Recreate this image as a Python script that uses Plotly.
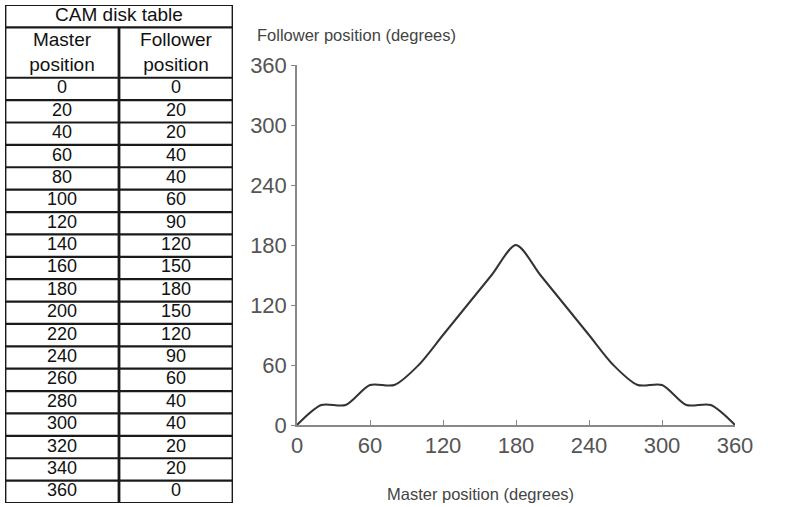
import plotly.graph_objects as go

master = [0, 20, 40, 60, 80, 100, 120, 140, 160, 180, 200, 220, 240, 260, 280, 300, 320, 340, 360]
follower = [0, 20, 20, 40, 40, 60, 90, 120, 150, 180, 150, 120, 90, 60, 40, 40, 20, 20, 0]
x_ticks = [0, 60, 120, 180, 240, 300, 360]
y_ticks = [0, 60, 120, 180, 240, 300, 360]
table_title = "CAM disk table"
col_header_top = ["Master", "Follower"]
col_header_bottom = ["position", "position"]

W, H = 792, 507
FONT = "Liberation Sans, Arial, Helvetica, sans-serif"
LINE = "#1a1a1a"

def px_x(s):
    return s / W

def px_y(s):
    return 1 - s / H

# table layout in row units (top = 0)
TITLE_H = 1.0
HEAD_H = 2.25
n = len(master)
body_top = TITLE_H + HEAD_H
total = body_top + n
row_centers = [body_top + i + 0.5 for i in range(n)]

fig = go.Figure()

# table values
fig.add_trace(go.Scatter(
    x=[0.5] * n + [1.5] * n, y=row_centers + row_centers,
    text=[str(v) for v in master] + [str(v) for v in follower],
    mode="text", textposition="middle center",
    textfont=dict(family=FONT, size=18, color="#111"),
    xaxis="x2", yaxis="y2", hoverinfo="skip", showlegend=False,
))
# title and column headers
fig.add_trace(go.Scatter(
    x=[1.0, 0.5, 1.5, 0.5, 1.5],
    y=[TITLE_H / 2, TITLE_H + 0.6, TITLE_H + 0.6, TITLE_H + 1.75, TITLE_H + 1.75],
    text=[table_title] + col_header_top + col_header_bottom,
    mode="text", textposition="middle center",
    textfont=dict(family=FONT, size=19, color="#111"),
    xaxis="x2", yaxis="y2", hoverinfo="skip", showlegend=False,
))

# table borders
shapes = []
for b in [0, TITLE_H] + [body_top + i for i in range(n + 1)]:
    shapes.append(dict(type="line", xref="x2", yref="y2", x0=0, x1=2, y0=b, y1=b,
                       line=dict(color=LINE, width=2.2)))
for xv, y0 in [(0, 0), (2, 0), (1, TITLE_H)]:
    shapes.append(dict(type="line", xref="x2", yref="y2", x0=xv, x1=xv, y0=y0, y1=total,
                       line=dict(color=LINE, width=2.8)))

# Cam curve
fig.add_trace(go.Scatter(
    x=master, y=follower, mode="lines",
    line=dict(color="#333", width=2, shape="spline", smoothing=0.8),
    cliponaxis=False, showlegend=False, hoverinfo="x+y",
))

fig.update_layout(
    width=W, height=H, autosize=False,
    margin=dict(l=0, r=0, t=0, b=0, pad=0, autoexpand=False),
    paper_bgcolor="white", plot_bgcolor="white",
    showlegend=False,
    shapes=shapes,
    xaxis=dict(domain=[px_x(297), px_x(735)], range=[0, 360],
               tickvals=x_ticks, ticks="inside", ticklen=5, tickcolor="#888",
               showline=True, linecolor="#888", linewidth=1.5,
               showgrid=False, zeroline=False, automargin=False,
               tickfont=dict(family=FONT, size=22, color="#555")),
    yaxis=dict(domain=[px_y(425), px_y(65)], range=[0, 360],
               tickvals=y_ticks, ticks="outside", ticklen=4, tickcolor="#888",
               showline=True, linecolor="#888", linewidth=1.5,
               showgrid=False, zeroline=False, automargin=False,
               tickfont=dict(family=FONT, size=22, color="#555")),
    xaxis2=dict(domain=[px_x(5), px_x(233)], range=[0, 2], visible=False,
                fixedrange=True, automargin=False),
    yaxis2=dict(domain=[px_y(503), px_y(5)], range=[total, 0], visible=False,
                fixedrange=True, automargin=False),
    annotations=[
        dict(text="Follower position (degrees)", xref="paper", yref="paper",
             x=px_x(255), y=px_y(35), xanchor="left", yanchor="middle",
             showarrow=False, font=dict(family=FONT, size=16.5, color="#444")),
        dict(text="Master position (degrees)", xref="paper", yref="paper",
             x=px_x(480), y=px_y(494), xanchor="center", yanchor="middle",
             showarrow=False, font=dict(family=FONT, size=16.5, color="#444")),
    ],
)

fig.write_html(
    "out.html",
    config={"displayModeBar": False},
    post_script="document.body.style.margin='0';document.body.style.overflow='hidden';",
)
